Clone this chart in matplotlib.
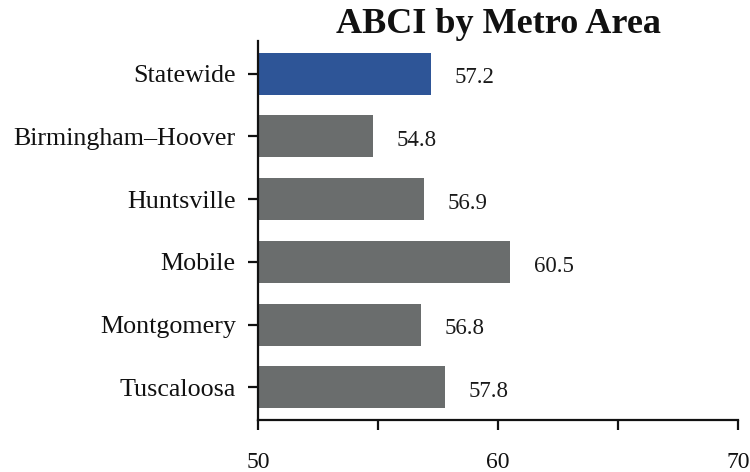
import matplotlib
matplotlib.use("Agg")
import matplotlib.pyplot as plt
from matplotlib.ticker import FixedLocator

# Index values by metro area
areas = ["Statewide", "Birmingham\u2013Hoover", "Huntsville", "Mobile", "Montgomery", "Tuscaloosa"]
values = [57.2, 54.8, 56.9, 60.5, 56.8, 57.8]
x_ticks = [50, 55, 60, 65, 70]
x_tick_labels = ["50", "", "60", "", "70"]

BLUE = "#2E5597"
GRAY = "#6A6D6D"
colors = [BLUE] + [GRAY] * (len(areas) - 1)

plt.rcParams["font.family"] = ["Liberation Serif", "DejaVu Serif"]

fig = plt.figure(figsize=(7.5, 4.72), dpi=100)
ax = fig.add_axes([0.344, 0.110, 0.640, 0.803])

pos = list(range(len(areas)))
ax.barh(pos, [v - 50 for v in values], left=50, height=0.67, color=colors)

for p, v in zip(pos, values):
    ax.annotate(f"{v:.1f}", xy=(v, p), xytext=(17, -3), textcoords="offset points",
                ha="left", va="center", fontsize=16.5, color="#1a1a1a")

ax.set_xlim(50, 70)
ax.set_ylim(len(areas) - 0.48, -0.52)
ax.xaxis.set_major_locator(FixedLocator(x_ticks))
ax.set_xticklabels(x_tick_labels)
ax.set_yticks(pos)
ax.set_yticklabels(areas)

for side in ("top", "right"):
    ax.spines[side].set_visible(False)
for side in ("left", "bottom"):
    ax.spines[side].set_linewidth(1.6)
    ax.spines[side].set_color("#111111")

ax.tick_params(axis="x", length=7, width=1.6, pad=16, labelsize=17, colors="#111111")
ax.tick_params(axis="y", length=7, width=1.6, pad=9, labelsize=18.7, colors="#111111")

ax.set_title("ABCI by Metro Area", fontsize=26, fontweight="bold", pad=6, color="#111111")

fig.savefig("out.png", dpi=100)
